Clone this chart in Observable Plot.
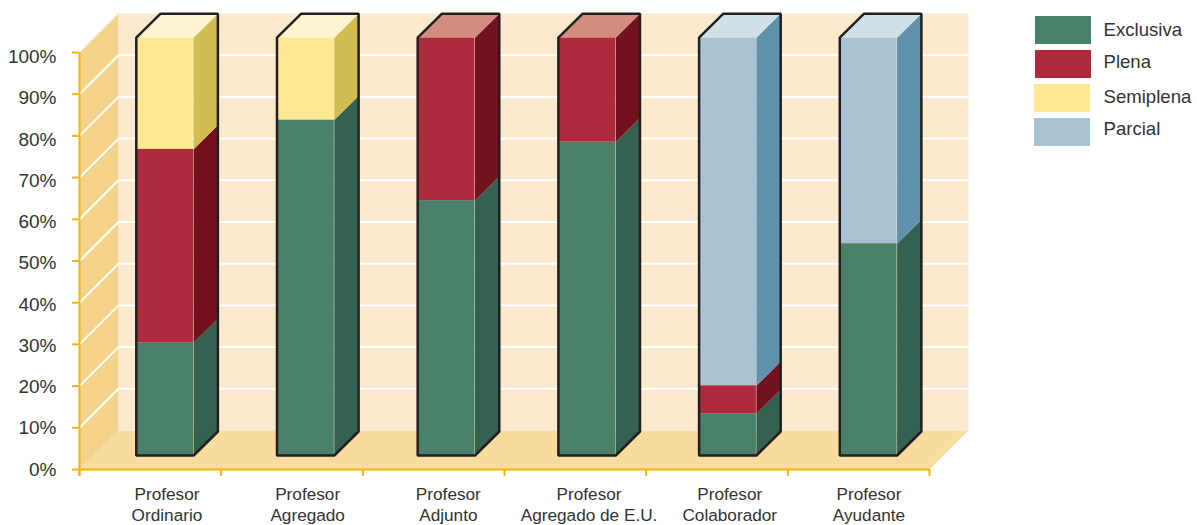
<!DOCTYPE html>
<html>
<head>
<meta charset="utf-8">
<script src="https://cdn.jsdelivr.net/npm/d3@7"></script>
<script src="https://cdn.jsdelivr.net/npm/@observablehq/plot@0.6"></script>
<style>
html,body{margin:0;padding:0;background:#fff;}
#wrap{position:relative;width:1197px;height:525px;font-family:"Liberation Sans",Arial,sans-serif;color:#333;overflow:hidden;}
#wrap svg{display:block;background:transparent;}
.lg{position:absolute;}
.lgt{position:absolute;left:1103.5px;font-size:18.6px;line-height:20px;white-space:nowrap;}
</style>
</head>
<body>
<div id="wrap"></div>
<script>
const categories = ["Profesor\nOrdinario","Profesor\nAgregado","Profesor\nAdjunto","Profesor\nAgregado de E.U.","Profesor\nColaborador","Profesor\nAyudante"];
const seriesNames = ["Exclusiva","Plena","Semiplena","Parcial"];
const exclusiva = [27,80.3,61,75,10,50.7];
const plena     = [46.3, 0,39,25,6.7, 0];
const semiplena = [26.7,19.7, 0, 0, 0, 0];
const parcial   = [ 0, 0, 0, 0,83.3,49.3];
const frontColors = ["#4a7f68","#ae2a3c","#fee891","#a6c2d3"];
const sideColors  = ["#356250","#72121f","#d4bd50","#5f92ac"];
const topColors   = ["#4a7f68","#d28d80","#fef4cf","#d0e1e8"];
const gridTicks = [10,20,30,40,50,60,70,80,90];
const yTicks = [0,10,20,30,40,50,60,70,80,90,100];
const xTicks = [0,1,2,3,4,5,6];

const DX = 39/141.67, DY = 39/4.17;              // depth of the chart box
const barStart = 56.8/141.67, barStep = 140.7/141.67, barW = 57.3/141.67;
const barDX = 24.3/141.67, barDY = 24/4.17, baseY = 14/4.17, k = 1.002;
const labelScale = 41.24/41.7;                    // y labels run a little tighter than the ticks

const values = [exclusiva, plena, semiplena, parcial];
const fronts = [], sides = seriesNames.map(()=>[]), tops = seriesNames.map(()=>[]), outline = [];
categories.forEach((c,i)=>{
  const xl = barStart + i*barStep, xr = xl + barW, xb = xr + barDX, xtl = xl + barDX;
  let acc = 0, last = 0;
  values.forEach((arr,s)=>{
    const v = arr[i];
    if (!v) return;
    const y1 = baseY + acc*k, y2 = baseY + (acc+v)*k;
    fronts.push({series:seriesNames[s], x1:xl, x2:xr, y1, y2});
    sides[s].push(
      {id:i, x:xr, y:y1},{id:i, x:xb, y:y1+barDY},{id:i, x:xb, y:y2+barDY},{id:i, x:xr, y:y2});
    acc += v; last = s;
  });
  const yt = baseY + acc*k;
  tops[last].push({id:i,x:xl,y:yt},{id:i,x:xr,y:yt},{id:i,x:xb,y:yt+barDY},{id:i,x:xtl,y:yt+barDY});
  outline.push(
    {id:i,x:xl,y:yt},{id:i,x:xtl,y:yt+barDY},{id:i,x:xb,y:yt+barDY},{id:i,x:xb,y:baseY+barDY},
    {id:i,x:xr,y:baseY},{id:i,x:xl,y:baseY},{id:i,x:xl,y:yt});
});

const poly = (pts, fill) => Plot.line(pts,{x:"x",y:"y",fill,stroke:"none"});
const axisColor = "#f2b50f";

const marks = [
  // side wall, back wall, floor
  poly([{x:0,y:0},{x:DX,y:DY},{x:DX,y:100+DY},{x:0,y:100}],"#f5d38b"),
  poly([{x:DX,y:DY},{x:6+DX,y:DY},{x:6+DX,y:100+DY},{x:DX,y:100+DY}],"#fbe9cd"),
  poly([{x:0,y:0},{x:6,y:0},{x:6+DX,y:DY},{x:DX,y:DY}],"#f8db9f"),
  // grid lines
  Plot.ruleY(gridTicks,{y:d=>d+DY,x1:DX,x2:6+DX,stroke:"#fff",strokeWidth:2}),
  Plot.link(gridTicks,{x1:()=>0,y1:d=>d,x2:()=>DX,y2:d=>d+DY,stroke:"#fff",strokeWidth:2}),
  // axes
  Plot.ruleY(yTicks,{y:d=>d,x1:-7/141.67,x2:0,stroke:axisColor,strokeWidth:2}),
  Plot.ruleX(xTicks,{x:d=>d,y1:-7/4.17,y2:0,stroke:axisColor,strokeWidth:2}),
  Plot.ruleX([0],{y1:-7/4.17,y2:100,stroke:axisColor,strokeWidth:2}),
  Plot.ruleY([0],{x1:0,x2:6,stroke:axisColor,strokeWidth:2}),
  Plot.text(yTicks,{x:()=>0,y:d=>d*labelScale,dx:-23,textAnchor:"end",text:d=>d+"%",fontSize:19,fill:"#333"}),
  // bars
  Plot.rect(fronts,{x1:"x1",x2:"x2",y1:"y1",y2:"y2",fill:"series"}),
  ...sides.map((pts,s)=>Plot.line(pts,{x:"x",y:"y",z:"id",fill:sideColors[s],stroke:"none"})),
  ...tops.map((pts,s)=>Plot.line(pts,{x:"x",y:"y",z:"id",fill:topColors[s],stroke:"none"})),
  Plot.line(outline,{x:"x",y:"y",z:"id",stroke:"#231f20",strokeWidth:2.5,strokeLinejoin:"miter"}),
  // category labels
  Plot.text(categories,{
    x:(d,i)=>barStart + i*barStep + barW/2 + (i===5 ? 0.5 : 2)/141.67,
    y:()=>-8.3,
    text:d=>d,fontSize:17.2,lineHeight:1.22,fill:"#333"
  })
];

const chart = Plot.plot({
  width:1197,height:525,
  marginLeft:79,marginRight:268,marginTop:52,marginBottom:56,
  style:{fontFamily:'"Liberation Sans",Arial,sans-serif',background:"transparent",overflow:"visible"},
  x:{domain:[0,6],axis:null},
  y:{domain:[0,100],axis:null},
  color:{domain:seriesNames,range:frontColors,legend:false},
  marks
});
const wrap = document.getElementById("wrap");
wrap.appendChild(chart);

// legend
const legendBoxes = [[1035,16],[1035,50],[1034,84],[1034,118]];
const legendTextY = [20,52,87,119];
seriesNames.forEach((n,i)=>{
  const b = document.createElement("div");
  b.className="lg";
  b.style.cssText=`left:${legendBoxes[i][0]}px;top:${legendBoxes[i][1]}px;width:56px;height:28px;background:${frontColors[i]}`;
  wrap.appendChild(b);
  const t = document.createElement("div");
  t.className="lgt";
  t.style.top=legendTextY[i]+"px";
  t.textContent=n;
  wrap.appendChild(t);
});
</script>
</body>
</html>
